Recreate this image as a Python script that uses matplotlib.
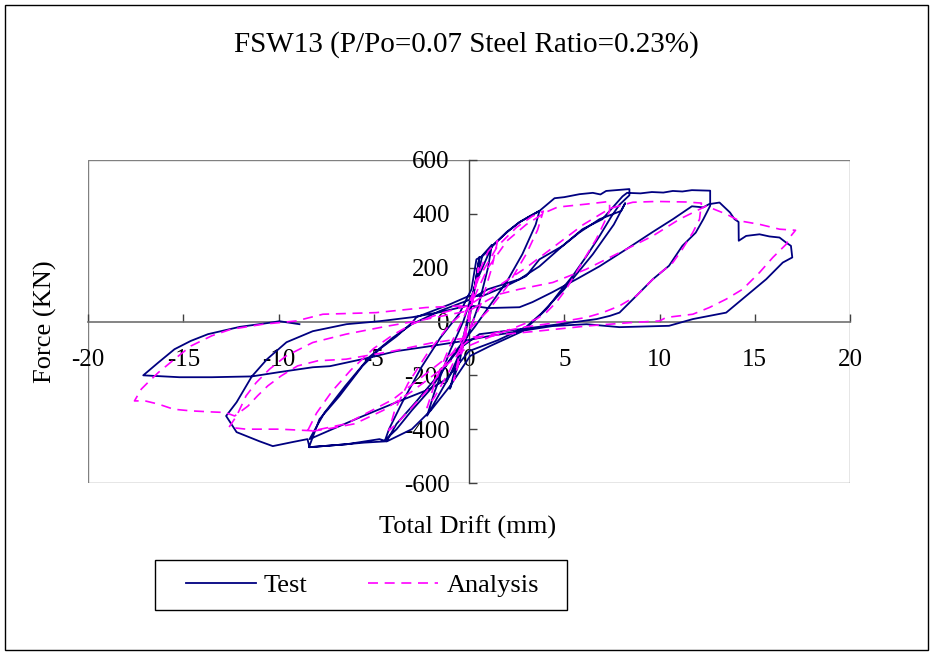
import matplotlib
matplotlib.use("Agg")
import matplotlib.pyplot as plt
from matplotlib.patches import Rectangle
from matplotlib.lines import Line2D

plt.rcParams['font.family'] = ['Liberation Serif', 'DejaVu Serif']
plt.rcParams['axes.unicode_minus'] = False

title = "FSW13 (P/Po=0.07 Steel Ratio=0.23%)"
x_label = "Total Drift (mm)"
y_label = "Force (KN)"
x_ticks = [-20, -15, -10, -5, 0, 5, 10, 15, 20]
y_ticks = [-600, -400, -200, 0, 200, 400, 600]
series_names = ["Test", "Analysis"]

# Test hysteresis (drift mm, force kN)
test_drift = [
    0, 0.3, 0.55, 0.35, 0.0, -0.5, -1.0, -0.7, -0.2,
    0.3, 0.7, 1.2, 1.0, 0.5, 0.0, -1.0, -1.8, -2.2, -1.8, -1.0, -0.3,
    0.4, 1.2, 2.0, 2.65, 3.2, 3.7, 3.5, 2.8, 2.0, 1.2, 0.3, -0.8, -2.0, -3.0, -3.8, -4.4, -4.2, -3.5, -2.5, -1.5, -0.5,
    0.13, 0.39, 0.71, 1.23, 1.97, 2.65, 3.18, 3.7, 4.49, 5.0, 5.8, 6.5, 6.9, 7.2, 7.74, 8.42, 8.42,
    7.9, 7.48, 6.85, 6.17, 5.43, 4.75, 4.07, 3.33, 2.81, 1.08, 0.06,
    -1.0, -2.0, -3.0, -4.3, -5.5, -6.43, -7.5, -8.4,
    -7.85, -6.8, -5.6, -4.7, -3.8, -2.97, -2.76, -1.0, 0.0,
    0.72, 1.95, 3.0, 3.7, 4.92, 5.8, 6.85, 7.99, 8.2,
    7.6, 6.5, 5.0, 3.8, 3.0, 1.5, 0.0,
    -1.18, -2.07, -3.81, -5.59, -7.17, -8.37,
    -7.6, -6.5, -5.2, -4.0, -3.0, -1.5, 0.0,
    1.0, 2.65, 3.7, 4.9, 5.96, 7.0, 8.06, 8.3, 9.0, 9.6, 10.2, 10.7, 11.2, 11.7, 12.66, 12.66,
    12.3, 11.9, 11.2, 10.5, 9.65, 8.78, 7.9, 7.4, 6.7, 4.75, 2.65, 0.55,
    -0.5, -1.5, -2.8, -3.8, -4.33, -4.7, -6.43, -8.37, -8.48, -9.27, -10.3, -11.0, -12.2, -12.75,
    -12.2, -11.4, -10.6, -9.58, -8.2, -6.43, -4.7, -2.97, -1.5, 0.0,
    1.0, 2.65, 3.33, 4.38, 5.64, 6.85, 8.27, 9.63, 10.7, 11.7, 12.3, 12.6,
    13.15, 13.7, 13.94, 14.15, 14.16, 14.55, 15.25, 15.77, 16.3, 16.65, 16.9, 16.97,
    16.47, 15.6, 14.55, 13.5, 11.75, 10.5, 10.0, 7.9, 6.17, 4.38, 2.65, 1.0,
    -0.34, -2.07, -3.8, -5.6, -7.3, -8.2, -9.95, -11.4, -13.5, -15.2, -17.1,
    -16.3, -15.46, -14.6, -13.7, -12.04, -10.5, -9.95, -8.9,
]
test_force = [
    0, 130, 240, 150, 20, -150, -250, -170, -30,
    120, 245, 285, 200, 60, -40, -200, -300, -350, -260, -110, 0,
    150, 280, 332, 369, 391, 411, 360, 250, 150, 70, -20, -120, -250, -330, -400, -440, -400, -300, -170, -60, 30,
    120, 231, 243, 280, 332, 369, 391, 411, 458, 462, 473, 478, 472, 485, 488, 492, 469,
    434, 391, 317, 243, 168, 109, 46, -3, -36, -92, -128,
    -240, -330, -400, -445, -450, -456, -462, -467,
    -363, -277, -166, -103, -55, -3, 16, 64, 95,
    95, 132, 169, 231, 281, 331, 380, 411, 440,
    360, 250, 120, 30, -20, -70, -110,
    -214, -251, -300, -352, -400, -437,
    -340, -240, -130, -60, -10, 40, 80,
    120, 157, 205, 280, 343, 380, 465, 478, 476, 481, 479, 485, 483, 488, 486, 430,
    380, 330, 281, 207, 157, 95, 33, 21, 9, -10, -29, -47,
    -100, -190, -300, -380, -445, -437, -456, -467, -437, -448, -463, -445, -411, -351,
    -300, -204, -140, -77, -36, -10, 1, 16, 35, 60,
    50, 53, 72, 109, 157, 205, 269, 332, 380, 428, 424, 436,
    442, 405, 380, 370, 300, 318, 324, 316, 312, 293, 281, 238,
    219, 157, 95, 33, 9, -16, -17, -21, -10, -17, -36, -55,
    -73, -92, -110, -140, -166, -170, -188, -204, -207, -207, -200,
    -152, -103, -72, -47, -20, -5, 1, -10,
]

# Analysis hysteresis (drift mm, force kN)
analysis_drift = [
    0, 0.3, 0.5, 0.3, 0.0, -0.4, -0.8, -0.5, -0.1,
    0.5, 1.0, 1.5, 1.2, 0.6, 0.0, -1.0, -1.8, -2.2, -1.8, -1.0, -0.3,
    0.5, 1.5, 2.5, 3.3, 3.9, 3.6, 3.0, 2.0, 1.0, 0.0, -1.0, -2.0, -3.0, -3.8, -4.2, -3.9, -3.2, -2.2, -1.0, 0.0,
    1.0, 2.0, 3.0, 4.0, 4.65, 6.15, 7.38, 7.38, 7.1, 6.68, 6.15, 5.63, 5.1, 4.58, 4.05, 3.53, 2.5, 1.0, 0.0,
    -1.5, -3.0, -4.5, -6.0, -7.5, -8.5,
    -8.0, -7.2, -6.2, -5.0, -4.0, -3.0, -1.5, 0.0,
    1.5, 3.0, 4.5, 6.0, 7.4, 8.6, 9.83, 11.4, 12.2,
    12.1, 11.75, 11.2, 10.7, 9.65, 8.78, 7.9, 7.02, 6.15, 4.5, 3.0, 1.5, 0.0,
    -2.0, -4.0, -6.45, -8.2, -9.95, -11.7, -12.6,
    -12.2, -11.7, -11.17, -10.47, -9.6, -8.2, -6.45, -4.5, -2.5, 0.0,
    1.5, 2.65, 4.4, 6.15, 7.9, 9.65, 11.05, 11.93, 12.45,
    13.5, 14.2, 15.25, 16.3, 17.14,
    16.9, 16.65, 15.95, 15.25, 14.37, 13.5, 12.62, 11.75, 10.35, 10.0, 8.5, 6.3, 3.7, 1.95, 0.06,
    -2.0, -4.0, -6.45, -7.94, -9.0, -9.86, -10.56, -11.1, -11.6, -12.3, -12.8, -13.5, -14.6, -15.5, -16.3, -17.0, -17.56,
    -17.2, -16.86, -16.3, -15.46, -14.6, -13.5, -12.5, -10.8, -9.07, -7.67, -4.87, -2.25, -0.33,
]
analysis_force = [
    0, 120, 200, 110, 10, -120, -220, -120, 0,
    180, 260, 300, 200, 60, -30, -180, -280, -320, -230, -90, 10,
    160, 280, 350, 390, 410, 340, 250, 130, 40, -30, -130, -240, -320, -380, -405, -330, -230, -120, -10, 50,
    200, 300, 360, 405, 425, 436, 446, 411, 368, 306, 244, 182, 120, 71, 33, 9, -20, -60, -90,
    -180, -260, -330, -380, -400, -410,
    -340, -260, -180, -100, -50, -10, 30, 60,
    130, 200, 280, 360, 420, 443, 446, 444, 440,
    380, 331, 269, 219, 157, 95, 58, 33, 15, -5, -20, -40, -70,
    -180, -290, -380, -406, -400, -400, -393,
    -351, -276, -227, -177, -128, -78, -47, -20, 5, 40,
    100, 120, 145, 194, 256, 318, 380, 411, 429,
    399, 374, 361, 343, 339,
    318, 287, 238, 182, 120, 83, 52, 27, 15, 2, -4, -16, -35, -47, -59,
    -80, -110, -140, -146, -165, -202, -239, -276, -314, -351, -338, -336, -332, -326, -307, -295, -295,
    -251, -227, -189, -140, -91, -53, -29, -10, 2, 27, 33, 52, 58,
]

W, H = 932, 653
fig = plt.figure(figsize=(W / 100, H / 100), dpi=100)
ax = fig.add_axes([88 / W, 1 - 483 / H, 762 / W, 323 / H])
ax.set_xlim(-20, 20)
ax.set_ylim(-600, 600)

test_color = '#000080'
ana_color = '#FF00FF'
ax.plot(test_drift, test_force, color=test_color, lw=1.3, zorder=3)
ax.plot(analysis_drift, analysis_force, color=ana_color, lw=1.2,
        linestyle=(0, (6, 4)), zorder=4)

# plot-area box
ax.add_patch(Rectangle((0, 0), 1, 1, transform=ax.transAxes, fill=False,
                       ec='#808080', lw=1.0, zorder=1))
for s in ['top', 'right']:
    ax.spines[s].set_visible(False)
ax.spines['left'].set_position(('data', 0))
ax.spines['bottom'].set_position(('data', 0))
ax.spines['left'].set_color('#404040')
ax.spines['bottom'].set_color('#707070')
ax.spines['left'].set_linewidth(1.0)
ax.spines['bottom'].set_linewidth(1.2)

ax.set_xticks(x_ticks)
ax.set_yticks(y_ticks)
ax.set_xticklabels([str(v) for v in x_ticks])
ax.set_yticklabels([str(v) for v in y_ticks])
ax.tick_params(axis='x', direction='in', length=6, width=1, color='#404040',
               labelsize=18, pad=20)
ax.tick_params(axis='y', direction='in', length=6, width=1, color='#404040',
               labelsize=18, pad=14)

fig.text(0.5, 1 - 45 / H, title, ha='center', va='center', fontsize=21)
fig.text(468 / W, 1 - 527 / H, x_label, ha='center', va='center', fontsize=19)
fig.text(45 / W, 1 - 322 / H, y_label, ha='center', va='center', fontsize=19,
         rotation=90)

handles = [Line2D([], [], color=test_color, lw=1.3),
           Line2D([], [], color=ana_color, lw=1.2, linestyle=(0, (6, 4)))]
leg = ax.legend(handles, series_names, loc='center',
                bbox_to_anchor=((158 + 567) / 2 / W, 1 - 585 / H),
                bbox_transform=fig.transFigure, ncol=2, frameon=False,
                fontsize=19, handlelength=2.65, handletextpad=0.3,
                columnspacing=2.3, borderpad=0.45, borderaxespad=0)
fig.patches.append(Rectangle((155 / W, 1 - 610 / H), 412 / W, 50 / H,
                             transform=fig.transFigure, fill=False,
                             ec='black', lw=1.0))

fig.patches.append(Rectangle((5 / W, 3 / H), 923 / W, 645 / H,
                             transform=fig.transFigure, fill=False,
                             ec='black', lw=1.0))

fig.savefig('out.png', dpi=100)
